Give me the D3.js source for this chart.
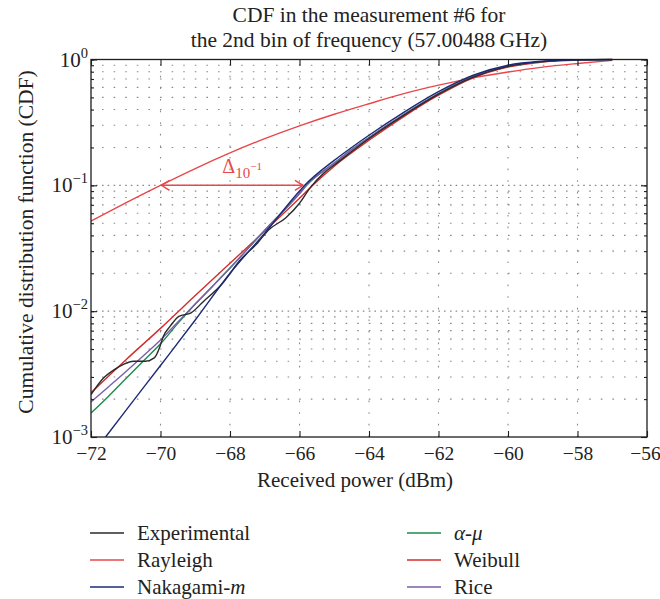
<!DOCTYPE html>
<meta charset="utf-8">
<style>
  body {margin: 0; background: #fff; font-family: "Liberation Serif", "DejaVu Serif", serif;}
  svg text {fill: #222;}
</style>
<svg width="660" height="599"></svg>
<script src="https://cdn.jsdelivr.net/npm/d3@7/dist/d3.min.js"></script>
<script>
  /**
   * ----------------------------------------------------------------------------------------------
   * data
   * ----------------------------------------------------------------------------------------------
   */
  const xTicks = [-72, -70, -68, -66, -64, -62, -60, -58, -56];
  const yTicks = [1e-3, 1e-2, 1e-1, 1];
  const yTickExp = ["−3", "−2", "−1", "0"];

  const expPower = [-72, -71.64, -71.33, -71.08, -70.78, -70.43, -70.18, -70.02, -69.92, -69.72, -69.47,
    -69.12, -68.77, -68.25, -67.7, -67.2, -66.9, -66.4, -66, -65.7, -65.3, -65, -64, -63, -62, -61,
    -60, -59, -58, -57];
  const expCdf = [0.00217, 0.00294, 0.00343, 0.00376, 0.0040, 0.0040, 0.00425, 0.0052, 0.0063, 0.0076, 0.0091,
    0.0097, 0.0119, 0.0162, 0.0256, 0.035, 0.044, 0.055, 0.072, 0.095, 0.125, 0.145, 0.235, 0.36, 0.53, 0.725,
    0.882, 0.962, 0.994, 1.0];

  const rayPower = [-72, -71, -70, -69, -68, -67, -66, -65, -64, -63, -62, -61, -60, -59, -58, -57];
  const rayCdf = [0.052, 0.0726, 0.100, 0.136, 0.181, 0.235, 0.297, 0.367, 0.445, 0.535, 0.625, 0.715, 0.795, 0.87, 0.93, 0.985];

  const nakPower = [-71.58, -71, -70, -69, -68, -67, -66, -65.85, -65, -64.5, -64, -63, -62, -61, -60, -59, -58, -57];
  const nakCdf = [0.001, 0.00162, 0.0037, 0.0085, 0.020, 0.0417, 0.09, 0.1, 0.158, 0.2, 0.25, 0.38, 0.555, 0.75,
    0.9, 0.97, 0.995, 1.0];

  const amuPower = [-72, -71.5, -71, -70.5, -70, -69.5, -69, -68.5, -68, -67, -66, -65.8, -65, -64.5, -64, -63, -62,
    -61, -60, -59, -58, -57];
  const amuCdf = [0.00155, 0.0021, 0.0029, 0.0040, 0.0055, 0.0080, 0.0114, 0.0158, 0.022, 0.044, 0.086, 0.1, 0.15,
    0.192, 0.24, 0.365, 0.535, 0.73, 0.885, 0.963, 0.994, 1.0];

  const weiPower = [-72, -71, -70, -69, -68, -67, -66, -65.62, -65, -64, -63, -62, -61, -60, -59, -58, -57];
  const weiCdf = [0.00225, 0.0041, 0.0073, 0.0133, 0.024, 0.0434, 0.079, 0.1, 0.142, 0.228, 0.352, 0.52, 0.715, 0.87,
    0.955, 0.99, 1.0];

  const ricePower = [-72, -71.5, -71, -70.5, -70, -69.5, -69, -68.5, -68, -67, -66, -65.8, -65, -64.5, -64, -63, -62,
    -61, -60, -59, -58, -57];
  const riceCdf = [0.0019, 0.0025, 0.0033, 0.0044, 0.0059, 0.0082, 0.0114, 0.0158, 0.022, 0.044, 0.086, 0.1, 0.15,
    0.192, 0.24, 0.365, 0.535, 0.73, 0.885, 0.963, 0.994, 1.0];

  // Δ at the 10^-1 level, between Rayleigh and the measured curve
  const deltaFrom = -70, deltaTo = -65.9, deltaLevel = 0.1;

  /**
   *-----------------------------------------------------------------------------------------------
   * definitions
   *-----------------------------------------------------------------------------------------------
   **/
  var svg = d3.select("svg");
  var plotLeft = 91, plotRight = 647, plotTop = 59.5, plotBottom = 437;
  var red1 = "#e8484b", red2 = "#d42c2c";

  var x = d3.scaleLinear().domain([-72, -56]).range([plotLeft, plotRight]);
  var y = d3.scaleLog().domain([1e-3, 1]).range([plotBottom, plotTop]);

  var series = [
    {name: "Rayleigh", power: rayPower, cdf: rayCdf, color: red1},
    {name: "Weibull", power: weiPower, cdf: weiCdf, color: red2},
    {name: "α-μ", power: amuPower, cdf: amuCdf, color: "#1f8a4c"},
    {name: "Rice", power: ricePower, cdf: riceCdf, color: "#7a5fa9"},
    {name: "Experimental", power: expPower, cdf: expCdf, color: "#2a2a2a"},
    {name: "Nakagami-m", power: nakPower, cdf: nakCdf, color: "#1c2a78"}
  ];

  /**------------------------------------------------------------------------
   * title
   **----------------------------------------------------------------------**/
  var title = svg.append("text").attr("text-anchor", "middle").style("font-size", "21.5px");
  title.append("tspan").attr("x", (plotLeft + plotRight) / 2).attr("y", 22).text("CDF in the measurement #6 for");
  title.append("tspan").attr("x", (plotLeft + plotRight) / 2).attr("y", 47).text("the 2nd bin of frequency (57.00488\u2009GHz)");

  /**------------------------------------------------------------------------
   * grid
   **----------------------------------------------------------------------**/
  var grid = svg.append("g")
    .style("stroke", "#8a8a8a").style("stroke-width", 1.1).style("stroke-dasharray", "1.6,10");
  grid.selectAll("line.v")
    .data(xTicks.slice(1, -1)).enter().append("line")
      .attr("x1", d => x(d)).attr("x2", d => x(d))
      .attr("y1", plotBottom).attr("y2", plotTop);
  grid.selectAll("line.h")
    .data(y.ticks().filter(d => d > 1e-3 && d < 1)).enter().append("line")
      .style("stroke-dashoffset", -11)
      .attr("x1", plotLeft).attr("x2", plotRight)
      .attr("y1", d => y(d)).attr("y2", d => y(d));
  grid.selectAll("line.m")
    .data(yTicks.slice(1, -1)).enter().append("line")
      .style("stroke-dashoffset", -5)
      .attr("x1", plotLeft).attr("x2", plotRight)
      .attr("y1", d => y(d)).attr("y2", d => y(d));

  /**------------------------------------------------------------------------
   * curves
   **----------------------------------------------------------------------**/
  svg.append("clipPath").attr("id", "plot")
    .append("rect").attr("x", plotLeft).attr("y", plotTop - 1)
    .attr("width", plotRight - plotLeft).attr("height", plotBottom - plotTop + 1);

  var line = d3.line()
    .x(d => x(d[0])).y(d => y(d[1]))
    .curve(d3.curveMonotoneX);

  svg.append("g").attr("clip-path", "url(#plot)")
    .selectAll("path")
    .data(series).enter().append("path")
      .attr("d", s => line(d3.zip(s.power, s.cdf)))
      .style("fill", "none")
      .style("stroke", s => s.color)
      .style("stroke-width", 1.4);

  /**------------------------------------------------------------------------
   * annotation
   **----------------------------------------------------------------------**/
  var ann = svg.append("g").style("stroke", red1).style("stroke-width", 1.5).style("fill", "none");
  var ay = y(deltaLevel), ax1 = x(deltaFrom) + 1, ax2 = x(deltaTo);
  ann.append("line").attr("x1", ax1).attr("x2", ax2).attr("y1", ay).attr("y2", ay);
  ann.append("polyline").attr("points", [[ax1 + 8, ay - 5], [ax1, ay], [ax1 + 8, ay + 5]].join(" "));
  ann.append("polyline").attr("points", [[ax2 - 8, ay - 5], [ax2, ay], [ax2 - 8, ay + 5]].join(" "));

  var dt = svg.append("text").attr("x", x(-68.22)).attr("y", ay - 12).style("fill", red1).style("font-size", "20px");
  dt.append("tspan").style("fill", red1).text("Δ");
  dt.append("tspan").attr("dy", 5).style("font-size", "15px").style("fill", red1).text("10");
  dt.append("tspan").attr("dy", -8).style("font-size", "11px").style("fill", red1).text("−1");

  /**------------------------------------------------------------------------
   * axes
   **----------------------------------------------------------------------**/
  var axes = svg.append("g");
  axes.append("rect")
    .attr("x", plotLeft).attr("y", plotTop).attr("width", plotRight - plotLeft).attr("height", plotBottom - plotTop)
    .style("fill", "none").style("stroke", "#1e1e1e").style("stroke-width", 1.3);

  var xAxis = axes.append("g").attr("transform", "translate(0," + plotBottom + ")")
    .call(d3.axisBottom(x).tickValues(xTicks).tickSizeInner(-6).tickSizeOuter(0).tickPadding(9));
  axes.append("g").attr("transform", "translate(0," + plotTop + ")")
    .call(d3.axisTop(x).tickValues(xTicks).tickSizeInner(-6).tickSizeOuter(0).tickFormat(""));
  axes.append("g").attr("transform", "translate(" + plotLeft + ",0)")
    .call(d3.axisLeft(y).tickValues(y.ticks()).tickSizeInner(-3).tickSizeOuter(0).tickFormat(""));
  axes.append("g").attr("transform", "translate(" + plotRight + ",0)")
    .call(d3.axisRight(y).tickValues(y.ticks()).tickSizeInner(-3).tickSizeOuter(0).tickFormat(""));
  axes.append("g").attr("transform", "translate(" + plotLeft + ",0)")
    .call(d3.axisLeft(y).tickValues(yTicks).tickSizeInner(-6).tickSizeOuter(0).tickFormat(""));
  axes.append("g").attr("transform", "translate(" + plotRight + ",0)")
    .call(d3.axisRight(y).tickValues(yTicks).tickSizeInner(-6).tickSizeOuter(0).tickFormat(""));

  axes.selectAll(".domain").remove();
  axes.selectAll(".tick line").style("stroke", "#1e1e1e").style("stroke-width", 1.1);
  xAxis.selectAll("text").style("font-size", "19.5px").style("font-family", "Liberation Serif").style("fill", "#222");
  // last label sits against the page edge
  xAxis.selectAll(".tick").filter(d => d === -56).select("text").attr("dx", -2);

  // y labels 10^k
  var yl = axes.selectAll("text.ylab")
    .data(yTicks).enter().append("text")
      .attr("class", "ylab")
      .attr("text-anchor", "end")
      .attr("x", plotLeft - 3)
      .attr("y", d => y(d) + 7)
      .style("font-size", "21px");
  yl.append("tspan").text("10");
  yl.append("tspan").attr("dy", -9).style("font-size", "14.5px").text((d, i) => yTickExp[i]);

  /**------------------------------------------------------------------------
   * axis titles
   **----------------------------------------------------------------------**/
  svg.append("text")
    .attr("text-anchor", "middle")
    .attr("x", 355).attr("y", 487)
    .style("font-size", "21px")
    .text("Received power (dBm)");
  svg.append("text")
    .attr("text-anchor", "middle")
    .attr("transform", "translate(33,242) rotate(-90)")
    .style("font-size", "21.5px")
    .text("Cumulative distribution function (CDF)");

  /**------------------------------------------------------------------------
   * legend
   **----------------------------------------------------------------------**/
  var legendOrder = ["Experimental", "Rayleigh", "Nakagami-m", "α-μ", "Weibull", "Rice"];
  var legend = svg.append("g").selectAll("g")
    .data(legendOrder.map(n => series.find(s => s.name === n))).enter().append("g")
      .attr("transform", (d, i) => "translate(" + (i < 3 ? 90 : 407) + "," + (533 + (i % 3) * 27) + ")");
  legend.append("line")
    .attr("x1", 0).attr("x2", 34).attr("y1", 0).attr("y2", 0)
    .style("stroke", d => d.color).style("stroke-width", 1.5);
  var lt = legend.append("text").attr("x", 47).attr("y", 7).style("font-size", "21px");
  lt.each(function(d) {
    var t = d3.select(this);
    if (d.name === "Nakagami-m") {
      t.append("tspan").text("Nakagami-");
      t.append("tspan").style("font-style", "italic").text("m");
    } else if (d.name === "α-μ") {
      t.append("tspan").style("font-style", "italic").text("α");
      t.append("tspan").text("-");
      t.append("tspan").style("font-style", "italic").text("μ");
    } else {
      t.text(d.name);
    }
  });
</script>
